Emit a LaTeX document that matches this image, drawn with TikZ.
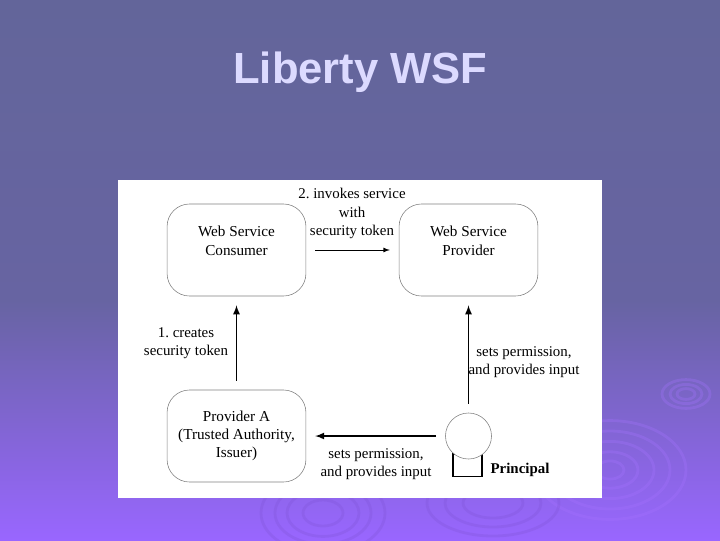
\documentclass[tikz,border=0pt]{standalone}
\usepackage{fontspec}
\setmainfont{Liberation Serif}
\setsansfont{Liberation Sans}
\definecolor{slatetop}{RGB}{99,101,154}
\definecolor{slatemid}{RGB}{103,100,162}
\definecolor{slatelow}{RGB}{153,102,255}
\definecolor{ripplelight}{RGB}{165,115,255}
\definecolor{rippledark}{RGB}{128,84,215}
\definecolor{titleblue}{RGB}{220,218,255}
\frenchspacing
\begin{document}
\begin{tikzpicture}[x=0.025cm, y=-0.025cm,
	entity/.style = {draw=black!50, rounded corners=16pt, minimum width=3.47cm, minimum height=2.3cm, inner sep=0pt, align=center, font=\fontsize{10.8}{13}\selectfont},
	person/.style = {draw=black!50, circle, minimum size=1.15cm, inner sep=0pt},
	letter/.style = {align=center, inner sep=0pt, font=\fontsize{10.6}{13}\selectfont},
	flow/.style = {-latex, line width=1.2pt, shorten <=6.4pt, shorten >=6.4pt},
	thinflow/.style = {-latex, line width=.6pt, shorten <=6.4pt, shorten >=6.4pt},
	ripple/.style = {line width=2pt, opacity=.3}]

	\useasboundingbox (0,0) rectangle (720,540);
	\shade[top color=slatetop, bottom color=slatemid] (0,0) rectangle (720,300);
	\shade[top color=slatemid, bottom color=slatelow] (0,300) rectangle (720,540);

	% ripples on the background
	\foreach \r in {9,16,24} {\draw[ripple, ripplelight] (686,394) ellipse ({\r} and {\r*.6});}
	\foreach \r in {14,28,44,60,76} {\draw[ripple, ripplelight] (610,470) ellipse ({\r} and {\r*.65});}
	\foreach \r in {20,36,48,62} {\draw[ripple, rippledark] (323,513) ellipse ({\r} and {\r*.65});}
	\foreach \r in {30,48,66} {\draw[ripple, rippledark] (493,503) ellipse ({\r} and {\r*.5});}

	\node[font=\sffamily\bfseries\fontsize{31}{36}\selectfont, text=titleblue] (title) at (360.5,72) {Liberty WSF};

	\fill[white] (118,180) rectangle (602,498);

	\node[entity] (consumer) at (236.5,250) {Web Service\\Consumer\\~};
	\node[entity] (provider) at (468.5,250) {Web Service\\Provider\\~};
	\node[entity] (issuer) at (236.5,436) {Provider A\\(Trusted Authority,\\Issuer)};
	\node[draw, line width=1pt, minimum width=.72cm, minimum height=.56cm, inner sep=0pt] (seat) at (467.5,465) {};

	% the circle comes over the top of the square
	\node[person, fill=white] (principal) at (468.5,436) {};

	\draw[thinflow] (consumer) -- (provider);
	\draw[flow] (issuer) -- (consumer);
	\draw[flow] (principal) -- (provider);
	\draw[flow] (principal) -- (issuer);

	\node[letter] (invokes) at (352,213.5) {2. invokes service\\with\\security token};
	\node[letter] (creates) at (186,343.5) {1. creates\\security token};
	\node[letter] (setsup) at (524,362.5) {sets permission,\\and provides input};
	\node[letter] (setsleft) at (376,464) {sets permission,\\and provides input};
	\node[letter, font=\bfseries\fontsize{10.6}{13}\selectfont] (principallabel) at (520,470) {Principal};

\end{tikzpicture}
\end{document}
